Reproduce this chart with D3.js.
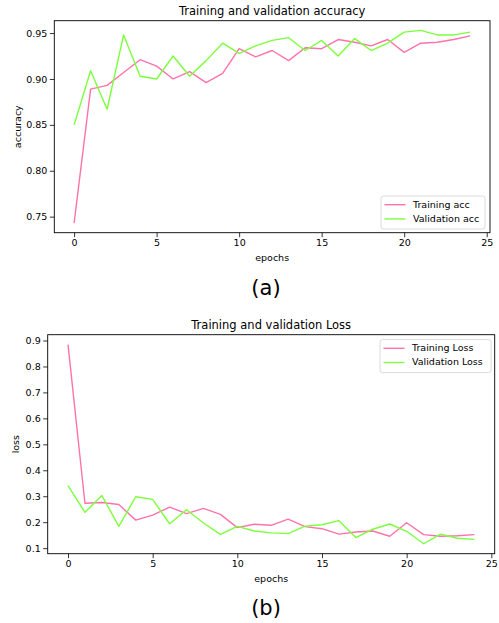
<!DOCTYPE html>
<html>
  <head>
    <meta charset="utf-8">
    <title>Training and validation</title>
    <script src="https://cdn.jsdelivr.net/npm/d3@7"></script>
    <style>
      body
      {
        margin: 0px;
        padding: 0px;
        background: white;
        font-family: "DejaVu Sans", sans-serif;
      }

      .tick text
      {
        font-family: "DejaVu Sans", sans-serif;
        font-size: 9.5px;
        fill: black;
      }

      .tick line
      {
        stroke: black;
        stroke-width: 0.8px;
      }

      .frame
      {
        fill: none;
        stroke: black;
        stroke-width: 0.9px;
      }

      .series
      {
        fill: none;
        stroke-width: 1.4px;
        stroke-linejoin: round;
      }

      .title { font-size: 11.5px; text-anchor: middle; }
      .axlabel { font-size: 9.5px; text-anchor: middle; }
      .legend text { font-size: 9.5px; dominant-baseline: middle; }
      .panel { font-size: 21px; text-anchor: middle; }
    </style>
  </head>
  <body>
    <svg id="chart" width="499" height="623"></svg>

    <script>

      //--- Data
      var epochs = d3.range(0, 25);

      var trainAcc = [0.743, 0.889, 0.893, 0.907, 0.921, 0.914, 0.900, 0.908, 0.896, 0.906,
                      0.933, 0.924, 0.931, 0.920, 0.934, 0.933, 0.943, 0.940, 0.936, 0.943,
                      0.929, 0.939, 0.940, 0.943, 0.947];
      var valAcc   = [0.850, 0.909, 0.867, 0.948, 0.903, 0.900, 0.925, 0.903, 0.920, 0.939,
                      0.928, 0.936, 0.942, 0.945, 0.931, 0.942, 0.925, 0.944, 0.931, 0.939,
                      0.951, 0.953, 0.948, 0.948, 0.951];

      var trainLoss = [0.884, 0.273, 0.276, 0.268, 0.208, 0.227, 0.258, 0.233, 0.253, 0.230,
                       0.179, 0.192, 0.188, 0.212, 0.183, 0.175, 0.154, 0.162, 0.166, 0.146,
                       0.198, 0.152, 0.146, 0.148, 0.152];
      var valLoss   = [0.341, 0.238, 0.303, 0.184, 0.298, 0.288, 0.194, 0.248, 0.197, 0.153,
                       0.184, 0.166, 0.159, 0.156, 0.185, 0.190, 0.206, 0.141, 0.173, 0.193,
                       0.165, 0.117, 0.154, 0.138, 0.134];

      var xTicks = [0, 5, 10, 15, 20, 25];
      var accTicks = [0.75, 0.80, 0.85, 0.90, 0.95];
      var lossTicks = [0.1, 0.2, 0.3, 0.4, 0.5, 0.6, 0.7, 0.8, 0.9];

      var pink = "#ff73a8";
      var green = "#7cff3c";

      var svg = d3.select("#chart");

      //--- Draw one panel
      function drawPanel(cfg)
      {
          var g = svg.append("g");

          var all = cfg.series[0].values.concat(cfg.series[1].values);
          var lo = d3.min(all), hi = d3.max(all), pad = (hi - lo) * 0.05;

          var x = d3.scaleLinear().domain([-1.2, 25.2]).range([cfg.left, cfg.right]);
          var y = d3.scaleLinear().domain([lo - pad, hi + pad]).range([cfg.bottom, cfg.top]);

          g.append("g")
            .attr("transform", "translate(0," + cfg.bottom + ")")
            .call(d3.axisBottom(x).tickValues(xTicks).tickSize(4.5).tickPadding(2.5).tickFormat(d3.format("d")))
            .call(a => a.select(".domain").remove());

          g.append("g")
            .attr("transform", "translate(" + cfg.left + ",0)")
            .call(d3.axisLeft(y).tickValues(cfg.yTicks).tickSize(4.5).tickPadding(2.5).tickFormat(d3.format(cfg.yFormat)))
            .call(a => a.select(".domain").remove());

          //--- Lines
          var line = d3.line()
            .x((d, i) => x(epochs[i]))
            .y(d => y(d));

          cfg.series.forEach(function (s)
          {
              g.append("path")
                .datum(s.values)
                .classed("series", true)
                .attr("stroke", s.color)
                .attr("d", line);
          });

          g.append("rect")
            .classed("frame", true)
            .attr("x", cfg.left)
            .attr("y", cfg.top)
            .attr("width", cfg.right - cfg.left)
            .attr("height", cfg.bottom - cfg.top);

          //--- Texts
          g.append("text").classed("title", true)
            .attr("x", (cfg.left + cfg.right) / 2)
            .attr("y", cfg.top - 6)
            .text(cfg.title);

          g.append("text").classed("axlabel", true)
            .attr("x", (cfg.left + cfg.right) / 2)
            .attr("y", cfg.bottom + 28)
            .text("epochs");

          g.append("text").classed("axlabel", true)
            .attr("transform", "translate(" + cfg.ylabelX + "," + ((cfg.top + cfg.bottom) / 2) + ") rotate(-90)")
            .text(cfg.ylabel);

          //--- Legend
          var lg = g.append("g").classed("legend", true)
            .attr("transform", "translate(" + cfg.legend.x + "," + cfg.legend.y + ")");

          lg.append("rect")
            .attr("width", cfg.legend.w)
            .attr("height", 33)
            .attr("rx", 2.5)
            .attr("fill", "white")
            .attr("fill-opacity", 0.8)
            .attr("stroke", "#d0d0d0")
            .attr("stroke-width", 0.8);

          cfg.series.forEach(function (s, i)
          {
              var yy = 8.7 + i * 14.2;
              lg.append("line")
                .attr("x1", 3.5).attr("x2", 24.5)
                .attr("y1", yy).attr("y2", yy)
                .attr("stroke", s.color)
                .attr("stroke-width", 1.4);
              lg.append("text")
                .attr("x", 32)
                .attr("y", yy + 0.5)
                .text(s.name);
          });

          svg.append("text").classed("panel", true)
            .attr("x", cfg.panelX)
            .attr("y", cfg.panelY)
            .text(cfg.panel);
      }

      drawPanel({
          left: 54.3, right: 490, top: 20.7, bottom: 232.7,
          series: [{ name: "Training acc", values: trainAcc, color: pink },
                   { name: "Validation acc", values: valAcc, color: green }],
          yTicks: accTicks, yFormat: ".2f",
          title: "Training and validation accuracy",
          ylabel: "accuracy", ylabelX: 21,
          legend: { x: 381, y: 196, w: 104 },
          panel: "(a)", panelX: 266, panelY: 295
      });

      drawPanel({
          left: 47.7, right: 494.7, top: 334.7, bottom: 553.7,
          series: [{ name: "Training Loss", values: trainLoss, color: pink },
                   { name: "Validation Loss", values: valLoss, color: green }],
          yTicks: lossTicks, yFormat: ".1f",
          title: "Training and validation Loss",
          ylabel: "loss", ylabelX: 18.5,
          legend: { x: 380, y: 339.6, w: 111 },
          panel: "(b)", panelX: 266, panelY: 615
      });

    </script>
  </body>
</html>
